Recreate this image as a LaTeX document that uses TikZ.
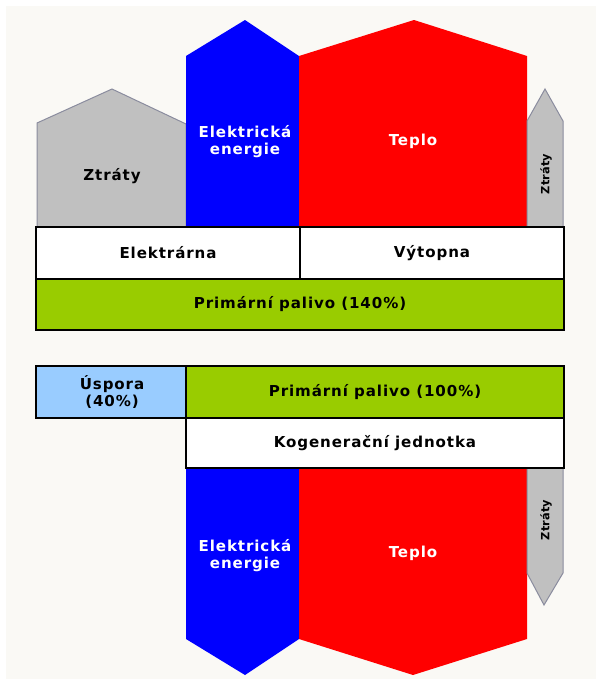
\documentclass[tikz,border=0pt]{standalone}
\usepackage{fontspec}
\newfontfamily\lab[LetterSpace=6]{DejaVu Sans}
\newfontfamily\labv[LetterSpace=2]{DejaVu Sans}
\definecolor{bg}{HTML}{FAF9F5}
\definecolor{lossgray}{HTML}{C0C0C0}
\definecolor{lossedge}{HTML}{8A8C9E}
\definecolor{elblue}{HTML}{0000FF}
\definecolor{heatred}{HTML}{FF0000}
\definecolor{fuelgreen}{HTML}{99CC00}
\definecolor{saveblue}{HTML}{99CCFF}
\begin{document}
\begin{tikzpicture}[x=0.75pt,y=-0.75pt,
  lbl/.style={font=\lab\bfseries\fontsize{11.3}{12.75}\selectfont, align=center, inner sep=0},
  wlbl/.style={lbl, text=white},
  vlbl/.style={font=\labv\bfseries\fontsize{8.5}{9}\selectfont, inner sep=0, rotate=90},
  loss/.style={fill=lossgray, draw=lossedge, line width=0.75pt},
  elec/.style={fill=elblue},
  heat/.style={fill=heatred},
  box/.style={draw=black, line width=1.5pt}]
\useasboundingbox (0,0) rectangle (596,679);
\fill[white] (0,0) rectangle (596,679);
\fill[bg] (6,6) rectangle (596,679);

% upper scheme: separate production
\draw[loss] (37,227) -- (37,123) -- (112,89) -- (186,124) -- (186,227);
\fill[elec] (186,227) -- (186,56) -- (245,20) -- (299,56) -- (299,227) -- cycle;
\fill[heat] (299,227) -- (299,56) -- (414,20) -- (527,56) -- (527,227) -- cycle;
\draw[loss] (527,227) -- (527,121) -- (545,89) -- (563,121) -- (563,227);

\draw[box, fill=white] (36,227) rectangle (564,279);
\draw[black, line width=1pt] (300,227) -- (300,279);
\draw[box, fill=fuelgreen] (36,279) rectangle (564,330);

\node[lbl] (ztr1) at (112,176) {Ztráty};
\node[wlbl] (el1) at (245,142) {Elektrická\\energie};
\node[wlbl] (tep1) at (413,141) {Teplo};
\node[vlbl] (ztr2) at (546,174) {Ztráty};
\node[lbl] (elek) at (168,253) {Elektrárna};
\node[lbl] (vyt) at (432,253) {Výtopna};
\node[lbl] (pp1) at (300,304) {Primární palivo (140\%)};

% lower scheme: cogeneration
\fill[elec] (186,468) -- (186,639) -- (245,675) -- (299,639) -- (299,468) -- cycle;
\fill[heat] (299,468) -- (299,639) -- (413,675) -- (527,639) -- (527,468) -- cycle;
\draw[loss] (527,468) -- (527,573) -- (544,605) -- (563,573) -- (563,468);

\draw[box, fill=saveblue] (36,366) rectangle (186,418);
\draw[box, fill=fuelgreen] (186,366) rectangle (564,418);
\draw[box, fill=white] (186,418) rectangle (564,468);

\node[lbl] (usp) at (112,392) {Úspora\\(40\%)};
\node[lbl] (pp2) at (375,392) {Primární palivo (100\%)};
\node[lbl] (kog) at (375,443) {Kogenerační jednotka};
\node[wlbl] (el2) at (245,556) {Elektrická\\energie};
\node[wlbl] (tep2) at (413,553) {Teplo};
\node[vlbl] (ztr3) at (546,520) {Ztráty};
\end{tikzpicture}
\end{document}
